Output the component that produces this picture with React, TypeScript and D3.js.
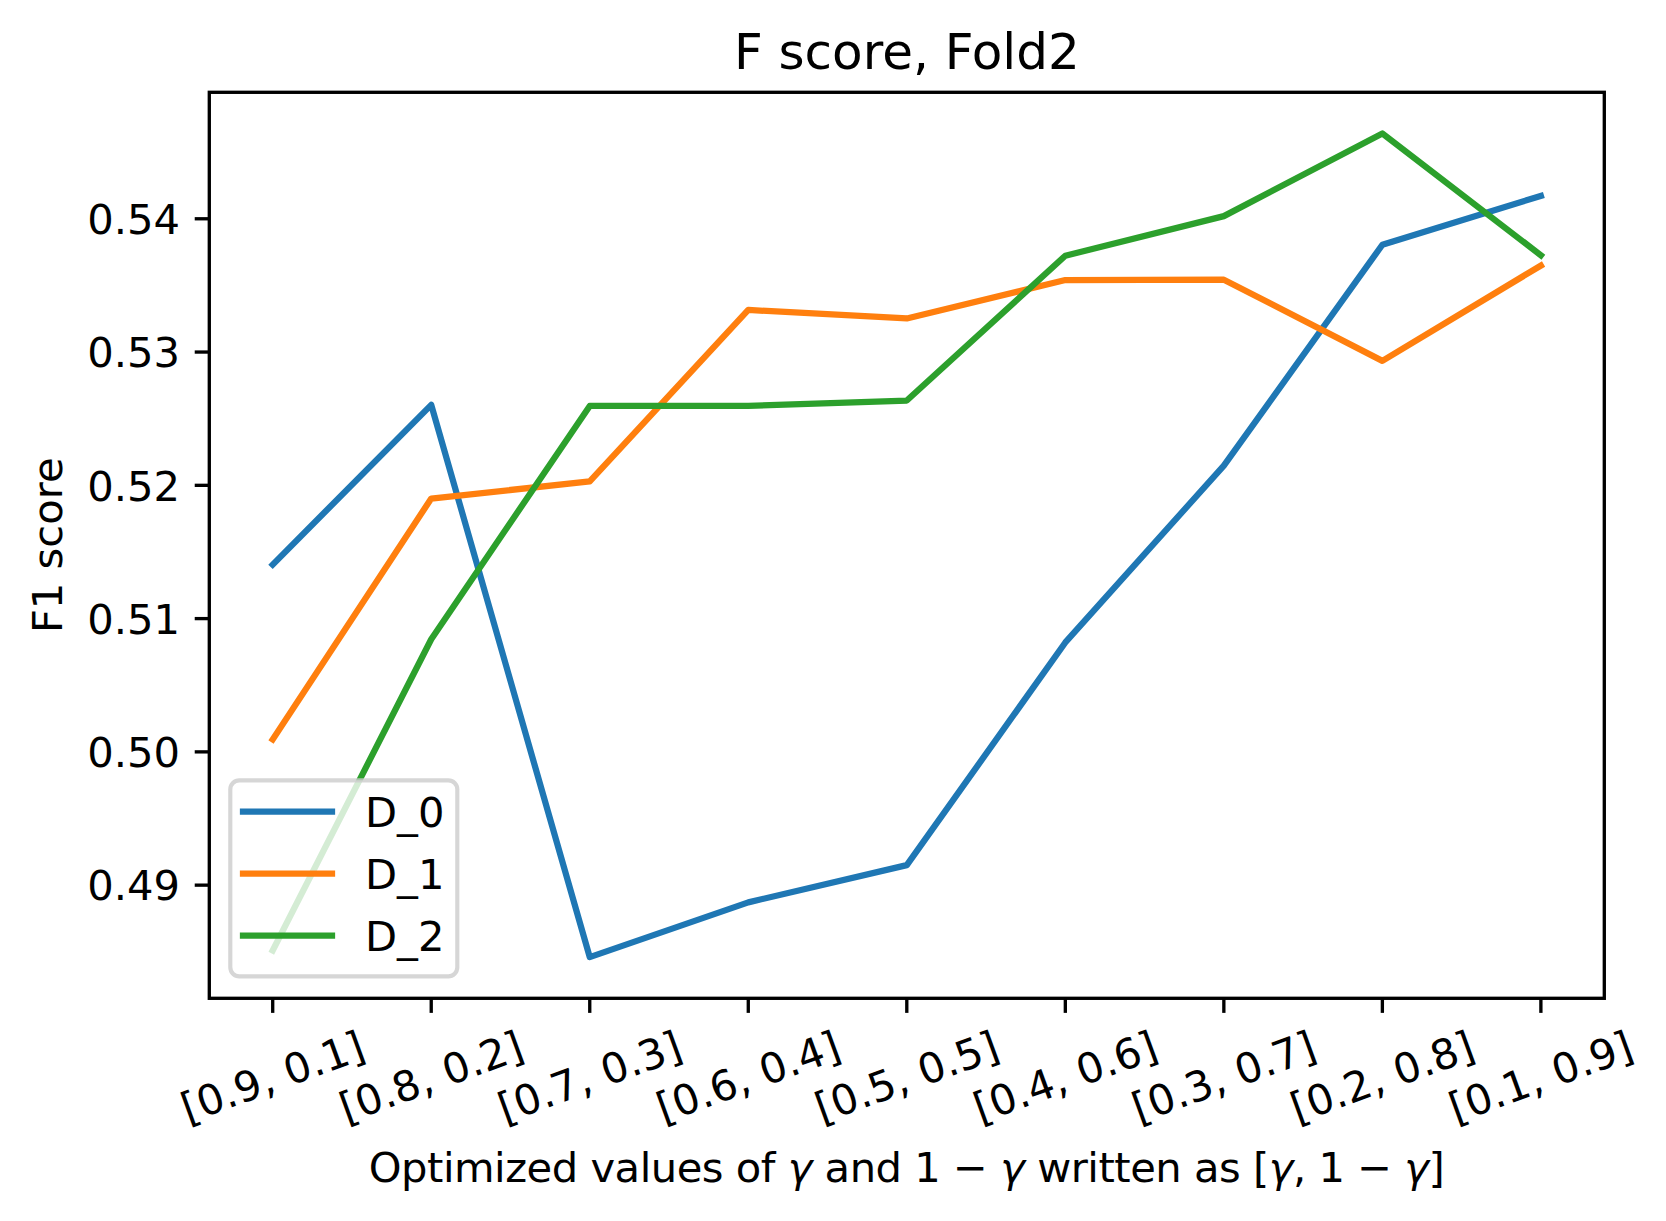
import React from "react";
import * as d3 from "d3";

const categories = ["[0.9, 0.1]", "[0.8, 0.2]", "[0.7, 0.3]", "[0.6, 0.4]", "[0.5, 0.5]", "[0.4, 0.6]", "[0.3, 0.7]", "[0.2, 0.8]", "[0.1, 0.9]"];
const seriesNames = ["D_0", "D_1", "D_2"];
const seriesColors = ["#1f77b4", "#ff7f0e", "#2ca02c"];
const d0 = [0.51405, 0.52604, 0.4846, 0.48871, 0.4915, 0.50821, 0.52148, 0.53805, 0.54172];
const d1 = [0.50094, 0.51901, 0.52029, 0.53316, 0.53252, 0.5354, 0.53543, 0.52934, 0.53649];
const d2 = [0.4851, 0.50845, 0.52596, 0.52596, 0.52636, 0.53723, 0.5402, 0.5464, 0.53726];
const yTicks = [0.49, 0.5, 0.51, 0.52, 0.53, 0.54];
const title = "F score, Fold2";
const yLabel = "F1 score";

const W = 1666;
const H = 1221;
const L = 209.3, R = 1604.3, T = 92.3, B = 998.3;
const FS = 41.67;
const TICK = 14.58;
const FONT = "'DejaVu Sans', sans-serif";

export default function App() {
  const series = [d0, d1, d2];
  const all = series.flat();
  const mn = d3.min(all)!, mx = d3.max(all)!;
  const pad = (mx - mn) * 0.05;
  const n = categories.length;
  const x = d3.scaleLinear().domain([-0.4, n - 1 + 0.4]).range([L, R]);
  const y = d3.scaleLinear().domain([mn - pad, mx + pad]).range([B, T]);
  const line = d3.line<number>().x((_, i) => x(i)).y((v) => y(v));
  const fmt = d3.format(".2f");
  const cx = (L + R) / 2;
  const cy = (T + B) / 2;

  return (
    <svg width={W} height={H} style={{ position: "absolute", left: 0, top: 0, background: "#fff" }} fontFamily={FONT}>
      <rect x={0} y={0} width={W} height={H} fill="#fff" />
      {series.map((s, k) => (
        <path key={k} d={line(s)!} fill="none" stroke={seriesColors[k]} strokeWidth={6.25} strokeLinejoin="round" strokeLinecap="square" />
      ))}
      {/* spines */}
      <rect x={L} y={T} width={R - L} height={B - T} fill="none" stroke="#000" strokeWidth={3.33} strokeLinejoin="miter" />
      {/* y ticks */}
      {yTicks.map((t) => (
        <g key={t}>
          <line x1={L - TICK} x2={L} y1={y(t)} y2={y(t)} stroke="#000" strokeWidth={3.33} />
          <text x={L - TICK - 14.8} y={y(t) + 15.2} textAnchor="end" fontSize={FS} fill="#000">{fmt(t)}</text>
        </g>
      ))}
      {/* x ticks */}
      {categories.map((c, i) => (
        <g key={c}>
          <line x1={x(i)} x2={x(i)} y1={B} y2={B + TICK} stroke="#000" strokeWidth={3.33} />
          <text
            x={x(i)}
            y={1077}
            textAnchor="middle"
            dominantBaseline="central"
            fontSize={FS}
            fill="#000"
            transform={`rotate(-20 ${x(i)} 1077)`}
          >{c}</text>
        </g>
      ))}
      {/* title */}
      <text x={cx} y={69} textAnchor="middle" fontSize={50} fill="#000">{title}</text>
      {/* y label */}
      <text x={0} y={0} textAnchor="middle" fontSize={FS} fill="#000" transform={`translate(61.7 ${cy}) rotate(-90)`}>{yLabel}</text>
      {/* x label */}
      <text x={cx} y={1181.7} textAnchor="middle" fontSize={FS} fill="#000" textLength={1076} lengthAdjust="spacing">
        <tspan>Optimized values of </tspan>
        <tspan fontStyle="italic">γ</tspan>
        <tspan> and 1 − </tspan>
        <tspan fontStyle="italic">γ</tspan>
        <tspan> written as [</tspan>
        <tspan fontStyle="italic">γ</tspan>
        <tspan>, 1 − </tspan>
        <tspan fontStyle="italic">γ</tspan>
        <tspan>]</tspan>
      </text>
      {/* legend */}
      <g>
        <rect x={230.3} y={780.3} width={227} height={196} rx={9} fill="#fff" fillOpacity={0.8} stroke="#cccccc" strokeOpacity={0.8} strokeWidth={4.17} />
        {seriesNames.map((nm, k) => {
          const ly = 811.7 + k * 62;
          return (
            <g key={nm}>
              <line x1={243} x2={332} y1={ly} y2={ly} stroke={seriesColors[k]} strokeWidth={6.25} strokeLinecap="square" />
              <text x={365} y={ly + 15} fontSize={FS} fill="#000">{nm}</text>
            </g>
          );
        })}
      </g>
    </svg>
  );
}
